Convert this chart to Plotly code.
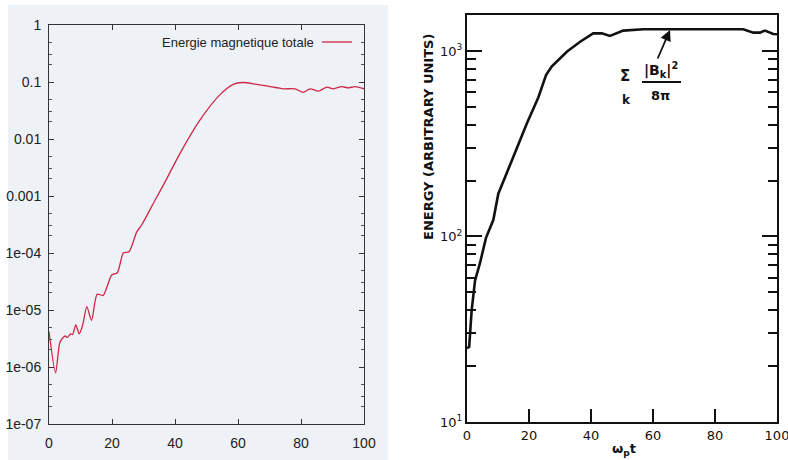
import plotly.graph_objects as go

# ---------------- data ----------------
left_t = [0, 2.1, 3.5, 5.1, 5.8, 6.9, 7.5, 8.5, 9.6, 10.7, 12.0, 13.5, 15.3, 17.2, 19.9,
          21.7, 23.6, 25.4, 27.8, 29.4, 33.7, 36.3, 41.6, 47.9, 54.3, 58.5, 61.5, 65,
          70.2, 74.4, 78.1, 80.7, 82.9, 85.5, 88.2, 90.3, 92.9, 95.0, 97.1, 100]
left_energy = [4.2e-6, 7.9e-7, 2.75e-6, 3.5e-6, 3.3e-6, 3.8e-6, 3.7e-6, 5.5e-6, 3.8e-6,
               5.5e-6, 1.15e-5, 6.6e-6, 1.9e-5, 1.8e-5, 4.1e-5, 4.5e-5, 1.0e-4, 1.05e-4,
               2.3e-4, 3.1e-4, 8.5e-4, 1.55e-3, 5.6e-3, 0.0214, 0.060, 0.091, 0.098, 0.093,
               0.083, 0.076, 0.076, 0.066, 0.076, 0.069, 0.081, 0.076, 0.083, 0.079, 0.083,
               0.076]

right_t = [0, 0.7, 1.5, 2.6, 4.2, 6.1, 8.5, 10.1, 12.3, 14.4, 17.1, 19.3, 23.0, 25.5,
           27.3, 32.2, 36.5, 40.7, 43.5, 46.1, 50.4, 56.9, 70, 80, 89.1, 92.4, 94.5,
           96.1, 98.8, 100]
right_energy = [25, 25.4, 40, 58, 72, 98, 123, 170, 209, 257, 331, 407, 562, 741, 824,
                991, 1122, 1245, 1245, 1205, 1288, 1310, 1310, 1310, 1310, 1256, 1256,
                1288, 1236, 1230]

x_ticks = [0, 20, 40, 60, 80, 100]
left_ytickvals = [1e-7, 1e-6, 1e-5, 1e-4, 1e-3, 1e-2, 1e-1, 1]
left_yticktext = ["1e-07", "1e-06", "1e-05", "1e-04", "0.001", "0.01", "0.1", "1"]
right_ytickvals = [10, 100, 1000]
right_yticktext = ["10<sup>1</sup>", "10<sup>2</sup>", "10<sup>3</sup>"]
legend_label = "Energie magnetique totale"
right_ylabel = "<b>ENERGY (ARBITRARY UNITS)</b>"
right_xlabel = "<b>ω<sub>p</sub>t</b>"

W, H = 788, 460
def px(x):
    return x / W
def py(y):
    return 1 - y / H

left_minor = [m * 10.0 ** e for e in range(-7, 0) for m in (2, 3, 5)]
right_minor = [m * 10.0 ** e for e in range(1, 4) for m in range(2, 10)]

LFONT = "Liberation Sans Narrow, Liberation Sans, Arial, sans-serif"
RFONT = "DejaVu Sans, Verdana, sans-serif"
CURVE_RED = "#cf2748"

fig = go.Figure()
fig.add_trace(go.Scatter(x=left_t, y=left_energy, mode="lines",
                         line=dict(color=CURVE_RED, width=1.3, shape="spline", smoothing=0.7),
                         xaxis="x", yaxis="y", showlegend=False))
fig.add_trace(go.Scatter(x=right_t, y=right_energy, mode="lines",
                         line=dict(color="#111111", width=2.6),
                         xaxis="x2", yaxis="y2", showlegend=False))

fig.update_layout(
    width=W, height=H,
    margin=dict(l=0, r=0, t=0, b=0),
    paper_bgcolor="white",
    plot_bgcolor="rgba(0,0,0,0)",
    xaxis=dict(domain=[px(49), px(364)], range=[0, 100], anchor="y", automargin=False,
               tickvals=x_ticks, ticks="inside", ticklen=5, tickcolor="#333",
               showline=True, linecolor="#333", linewidth=1, mirror="ticks",
               showgrid=False, zeroline=False, ticklabelstandoff=6,
               tickfont=dict(family=LFONT, size=14, color="#222")),
    yaxis=dict(domain=[py(424), py(25)], type="log", range=[-7, 0], anchor="x",
               automargin=False,
               tickvals=left_ytickvals, ticktext=left_yticktext,
               ticks="inside", ticklen=5, tickcolor="#333",
               minor=dict(tickvals=left_minor, ticks="inside", ticklen=3, tickcolor="#555"),
               showline=True, linecolor="#333", linewidth=1, mirror="ticks",
               showgrid=False, zeroline=False, ticklabelstandoff=4,
               tickfont=dict(family=LFONT, size=14, color="#222")),
    xaxis2=dict(domain=[px(467), px(777)], range=[0, 100], anchor="y2", automargin=False,
                tickvals=x_ticks, ticks="inside", ticklen=13, tickwidth=2, tickcolor="#111",
                showline=True, linecolor="#111", linewidth=2.2, mirror=True,
                showgrid=False, zeroline=False, ticklabeloverflow="allow",
                tickfont=dict(family=RFONT, size=13, color="#111")),
    yaxis2=dict(domain=[py(422), py(15)], type="log", range=[1, 3.194], anchor="x2",
                automargin=False,
                tickvals=right_ytickvals, ticktext=right_yticktext,
                ticks="inside", ticklen=15, tickwidth=2, tickcolor="#111",
                minor=dict(tickvals=right_minor, ticks="inside", ticklen=9,
                           tickwidth=1.6, tickcolor="#111"),
                showline=True, linecolor="#111", linewidth=2.2, mirror="ticks",
                showgrid=False, zeroline=False,
                tickfont=dict(family=RFONT, size=13, color="#111")),
)

shapes = [
    # scanned page background of the left panel
    dict(type="rect", xref="paper", yref="paper", x0=px(8), x1=px(388), y0=0, y1=py(5),
         fillcolor="#eef1f6", line=dict(width=0), layer="below"),
    # legend sample line
    dict(type="line", xref="paper", yref="paper", x0=px(322), x1=px(352), y0=py(42), y1=py(42),
         line=dict(color=CURVE_RED, width=1.3)),
    # fraction bar
    dict(type="line", xref="paper", yref="paper", x0=px(642), x1=px(681), y0=py(82), y1=py(82),
         line=dict(color="#111", width=1.8)),
]
fig.update_layout(shapes=shapes)

ann = [
    dict(text=legend_label, xref="paper", yref="paper", x=px(316), y=py(42),
         xanchor="right", yanchor="middle", showarrow=False,
         font=dict(family=LFONT, size=13, color="#222")),
    dict(text=right_ylabel, xref="paper", yref="paper", x=px(429), y=py(137),
         textangle=-90, xanchor="center", yanchor="middle", showarrow=False,
         font=dict(family=RFONT, size=13, color="#111")),
    dict(text=right_xlabel, xref="paper", yref="paper", x=px(624), y=py(449),
         xanchor="center", yanchor="middle", showarrow=False,
         font=dict(family=RFONT, size=13, color="#111")),
    dict(text="<b>Σ</b>", xref="paper", yref="paper", x=px(625), y=py(76),
         xanchor="center", yanchor="middle", showarrow=False,
         font=dict(family=RFONT, size=15, color="#111")),
    dict(text="<b>k</b>", xref="paper", yref="paper", x=px(626), y=py(100),
         xanchor="center", yanchor="middle", showarrow=False,
         font=dict(family=RFONT, size=12, color="#111")),
    dict(text="<b>|B<sub>k</sub>|<sup>2</sup></b>", xref="paper", yref="paper",
         x=px(661), y=py(70),
         xanchor="center", yanchor="middle", showarrow=False,
         font=dict(family=RFONT, size=14, color="#111")),
    dict(text="<b>8π</b>", xref="paper", yref="paper", x=px(660), y=py(95),
         xanchor="center", yanchor="middle", showarrow=False,
         font=dict(family=RFONT, size=13, color="#111")),
    dict(text="", xref="paper", yref="paper", x=px(670), y=py(30),
         ax=-13, ay=30, showarrow=True, arrowhead=2, arrowsize=1.2, arrowwidth=1.8,
         arrowcolor="#111"),
]
fig.update_layout(annotations=ann)

fig.write_html("out.html", config={"displayModeBar": False},
               post_script="document.body.style.margin='0';document.body.style.overflow='hidden';")
